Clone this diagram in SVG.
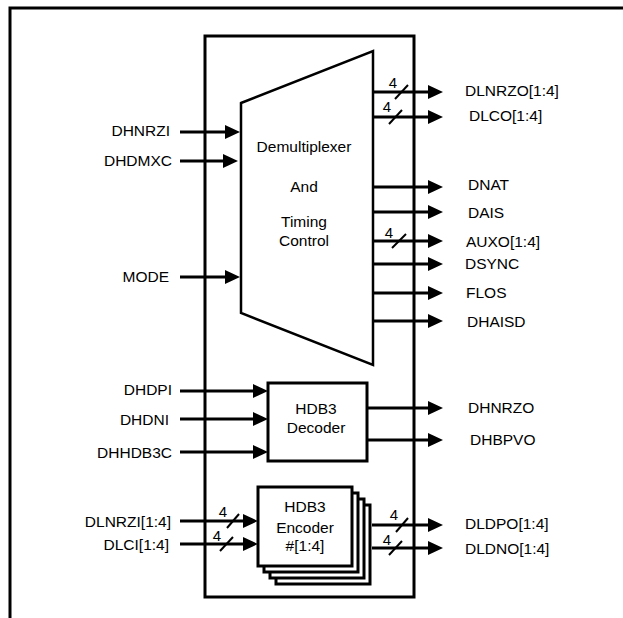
<svg xmlns="http://www.w3.org/2000/svg" width="623" height="618" viewBox="0 0 623 618">
<defs>
<marker id="ah" markerUnits="userSpaceOnUse" markerWidth="15" markerHeight="14" refX="6" refY="7" orient="auto">
<path d="M0,0 L15,7 L0,14 z" fill="#000"/>
</marker>
<style>
text{font-family:"Liberation Sans",Arial,sans-serif;font-size:15.5px;fill:#000}
.box{fill:#fff;stroke:#000;stroke-width:3}
.w{stroke:#000;stroke-width:3;fill:none}
.c{stroke:#000;stroke-width:3;fill:none;marker-end:url(#ah)}
.s{stroke:#000;stroke-width:2;fill:none}
.m{text-anchor:middle}
.e{text-anchor:end}
.n{font-size:15px;text-anchor:middle}
</style>
</defs>
<rect width="623" height="618" fill="#fff"/>
<path class="w" d="M10,618 V8 H623"/>
<g id="chip"><rect class="w" x="205" y="36" width="209" height="561"/></g>
<g id="demux">
<polygon points="241,103 373,51 373,365 241,313" fill="#fff" stroke="#000" stroke-width="2.5"/>
<text class="m" x="304" y="152">Demultiplexer</text>
<text class="m" x="304" y="192">And</text>
<text class="m" x="304" y="227">Timing</text>
<text class="m" x="304" y="246">Control</text>
</g>
<g id="decoder">
<rect class="box" x="268" y="383" width="99" height="78"/>
<text class="m" x="316" y="414">HDB3</text>
<text class="m" x="316" y="433">Decoder</text>
</g>
<g id="encoder">
<rect class="box" x="276" y="505" width="94" height="79"/>
<rect class="box" x="270" y="499" width="94" height="79"/>
<rect class="box" x="264" y="493" width="94" height="79"/>
<rect class="box" x="258" y="487" width="94" height="79"/>
<text class="m" x="305" y="512">HDB3</text>
<text class="m" x="305" y="533">Encoder</text>
<text class="m" x="305" y="551">#[1:4]</text>
</g>
<g id="connectors">
<path class="c" d="M180,132 H231"/>
<path class="c" d="M180,161 H229"/>
<path class="c" d="M180,277 H231"/>
<path class="c" d="M373,92 H434"/>
<path class="c" d="M373,117 H434"/>
<path class="c" d="M373,187 H434"/>
<path class="c" d="M373,212 H434"/>
<path class="c" d="M373,241 H434"/>
<path class="c" d="M373,264 H434"/>
<path class="c" d="M373,293 H434"/>
<path class="c" d="M373,321 H434"/>
<path class="c" d="M180,391 H259"/>
<path class="c" d="M180,419 H259"/>
<path class="c" d="M180,452 H259"/>
<path class="c" d="M367,408 H434"/>
<path class="c" d="M367,440 H434"/>
<path class="c" d="M180,521 H249"/>
<path class="c" d="M180,544 H249"/>
<path class="c" d="M372,525 H434"/>
<path class="c" d="M372,548 H434"/>
<path class="s" d="M395,99 L408,85"/>
<path class="s" d="M389,124 L402,110"/>
<path class="s" d="M392,248 L406,234"/>
<path class="s" d="M227,528 L239,514"/>
<path class="s" d="M220,551 L233,537"/>
<path class="s" d="M396,532 L408,518"/>
<path class="s" d="M389,555 L402,541"/>
</g>
<g id="labels">
<text class="n" x="393" y="88">4</text>
<text class="n" x="387" y="112">4</text>
<text class="n" x="389" y="238">4</text>
<text class="n" x="223" y="517">4</text>
<text class="n" x="217" y="541">4</text>
<text class="n" x="394" y="520">4</text>
<text class="n" x="387" y="545">4</text>
<text class="e" x="170" y="136">DHNRZI</text>
<text class="e" x="172" y="166">DHDMXC</text>
<text class="e" x="169" y="282">MODE</text>
<text class="e" x="172" y="395">DHDPI</text>
<text class="e" x="169" y="425">DHDNI</text>
<text class="e" x="172" y="458">DHHDB3C</text>
<text class="e" x="171" y="527">DLNRZI[1:4]</text>
<text class="e" x="169" y="550">DLCI[1:4]</text>
<text x="465" y="96">DLNRZO[1:4]</text>
<text x="469" y="121">DLCO[1:4]</text>
<text x="468" y="190">DNAT</text>
<text x="468" y="218">DAIS</text>
<text x="466" y="247">AUXO[1:4]</text>
<text x="465" y="269">DSYNC</text>
<text x="466" y="298">FLOS</text>
<text x="467" y="327">DHAISD</text>
<text x="468" y="413">DHNRZO</text>
<text x="470" y="445">DHBPVO</text>
<text x="465" y="529">DLDPO[1:4]</text>
<text x="465" y="554">DLDNO[1:4]</text>
</g>
</svg>
